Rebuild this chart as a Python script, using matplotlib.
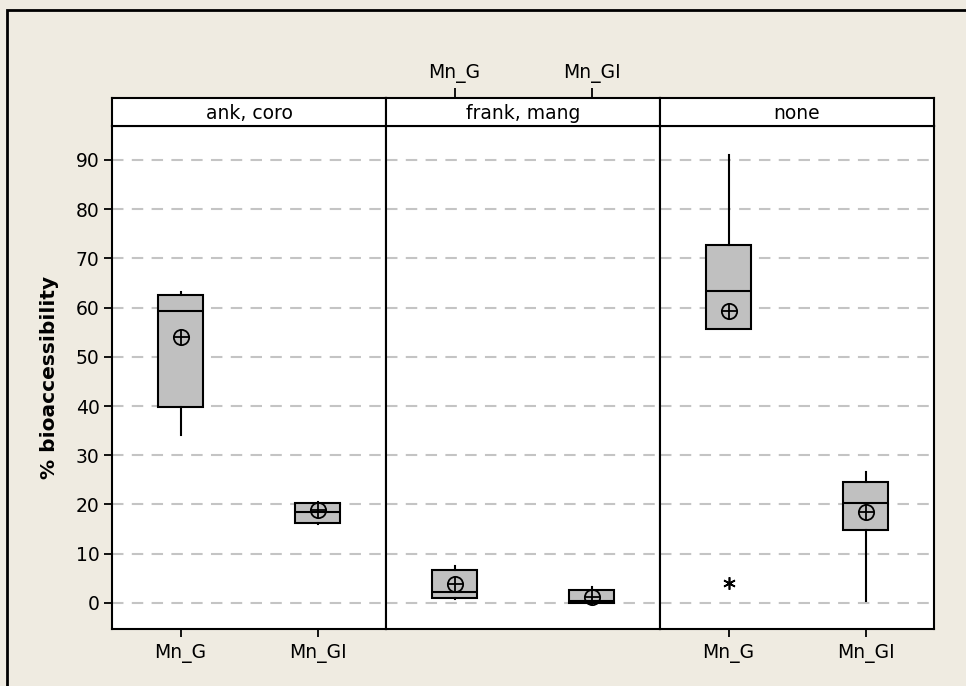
import matplotlib
matplotlib.use("Agg")
import matplotlib.pyplot as plt
from matplotlib.patches import Rectangle

plt.rcParams['font.family'] = ['DejaVu Sans']

panels = ["ank, coro", "frank, mang", "none"]
variables = ["Mn_G", "Mn_GI"]

# per panel: [Mn_G, Mn_GI]
whislo = [[34.1, 16.0], [0.8, 0.0], [55.7, 0.3]]
q1     = [[39.8, 16.3], [1.1, 0.0], [55.7, 14.8]]
med    = [[59.3, 18.5], [2.3, 0.3], [63.3, 20.2]]
q3     = [[62.6, 20.3], [6.6, 2.6], [72.7, 24.6]]
whishi = [[63.1, 20.6], [7.5, 3.3], [91.0, 26.7]]
means  = [[54.0, 18.8], [3.8, 1.3], [59.3, 18.5]]
fliers = [[[], []], [[], []], [[4.1], []]]

yticks = [0, 10, 20, 30, 40, 50, 60, 70, 80, 90]
ylabel = "% bioaccessibility"

BG = "#EFEBE1"
W, H = 966, 686
FS = 13.5
fig = plt.figure(figsize=(W / 100, H / 100), dpi=100, facecolor=BG)

# outer frame (partially visible)
fig.patches.append(Rectangle((7 / W, -0.2), 1.3, 1 - 10 / H + 0.2, transform=fig.transFigure,
                             fill=False, edgecolor="black", linewidth=2.0, zorder=0))

left, right = 112 / W, 934 / W
bottom, top = 1 - 629 / H, 1 - 126 / H
strip_top = 1 - 98 / H
pw = (right - left) / 3

for i, name in enumerate(panels):
    ax = fig.add_axes([left + i * pw, bottom, pw, top - bottom])
    ax.set_facecolor("white")
    stats = []
    for j, v in enumerate(variables):
        stats.append(dict(label=v, whislo=whislo[i][j], q1=q1[i][j], med=med[i][j],
                          q3=q3[i][j], whishi=whishi[i][j], mean=means[i][j],
                          fliers=fliers[i][j]))
    ax.bxp(stats, positions=[1, 2], widths=0.335, patch_artist=True,
           showcaps=False, showmeans=False, showfliers=True,
           boxprops=dict(facecolor="#C0C0C0", edgecolor="black", linewidth=1.5),
           medianprops=dict(color="black", linewidth=1.5),
           whiskerprops=dict(color="black", linewidth=1.5),
           flierprops=dict(marker=(6, 2, 0), markersize=9, markeredgecolor="black",
                           markeredgewidth=1.2, markerfacecolor="none"),
           zorder=3)
    mx = [1, 2]
    ax.plot(mx, means[i], linestyle="none", marker="o", markersize=11,
            markerfacecolor="none", markeredgecolor="black", markeredgewidth=1.3, zorder=5)
    ax.plot(mx, means[i], linestyle="none", marker="+", markersize=11,
            markeredgecolor="black", markeredgewidth=1.3, zorder=5)
    ax.set_xlim(0.5, 2.5)
    ax.set_ylim(-5.3, 96.9)
    for y in yticks:
        ax.axhline(y, color="#C4C4C4", linewidth=1.5, dashes=(5.5, 4), zorder=1)
    for s in ax.spines.values():
        s.set_linewidth(1.5)
    ax.set_yticks(yticks)
    if i == 0:
        ax.set_yticklabels([str(t) for t in yticks], fontsize=FS)
        ax.tick_params(axis="y", direction="out", length=6, width=1.3, pad=3)
        ax.set_ylabel(ylabel, fontsize=14.5, fontweight="bold", labelpad=12)
    else:
        ax.tick_params(axis="y", length=0, labelleft=False)
    if i == 1:
        ax.set_xticks([])
    else:
        ax.set_xticks([1, 2])
        ax.set_xticklabels(variables, fontsize=FS)
        ax.tick_params(axis="x", direction="out", length=6, width=1.3, pad=5)

    # strip
    sax = fig.add_axes([left + i * pw, top, pw, strip_top - top])
    sax.set_facecolor("white")
    sax.set_xlim(0.5, 2.5)
    sax.set_ylim(0, 1)
    sax.set_yticks([])
    for s in sax.spines.values():
        s.set_linewidth(1.5)
    sax.text(1.5, 0.45, name, ha="center", va="center", fontsize=FS)
    if i == 1:
        sax.xaxis.tick_top()
        sax.set_xticks([1, 2])
        sax.set_xticklabels(variables, fontsize=FS)
        sax.tick_params(axis="x", direction="out", length=7, width=1.3, pad=4)
    else:
        sax.set_xticks([])

fig.savefig("out.png", dpi=100, facecolor=BG)
